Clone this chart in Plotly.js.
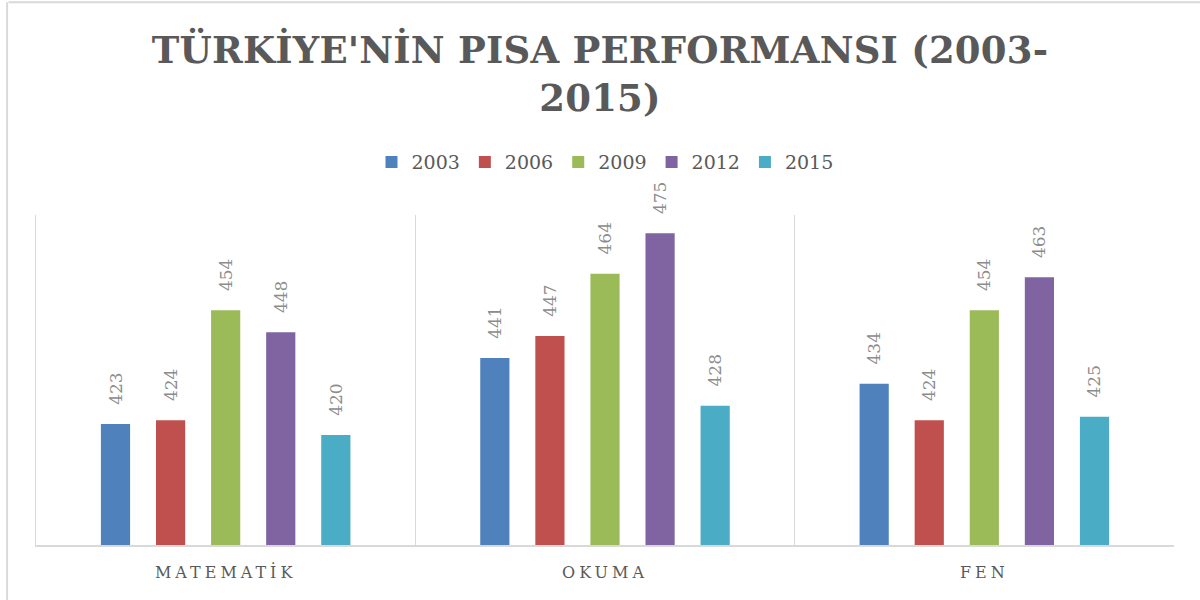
<!DOCTYPE html>
<html>
<head>
<meta charset="utf-8">
<script src="https://cdn.plot.ly/plotly-3.0.1.min.js"></script>
<style>
  html, body { margin: 0; padding: 0; background: #fff; }
  #chart { width: 1200px; height: 600px; }
  .gtitle { letter-spacing: 0.2px; }
  .xtick text { letter-spacing: 4px; }
</style>
</head>
<body>
<div id="chart"></div>
<script>
const categories = ['MATEMATİK', 'OKUMA', 'FEN'];
const years = ['2003', '2006', '2009', '2012', '2015'];
const scores2003 = [423, 441, 434];
const scores2006 = [424, 447, 424];
const scores2009 = [454, 464, 454];
const scores2012 = [448, 475, 463];
const scores2015 = [420, 428, 425];
const colors = ['#4f81bd', '#c0504d', '#9bbb59', '#8064a2', '#4bacc6'];

const series = [scores2003, scores2006, scores2009, scores2012, scores2015];
const traces = series.map((vals, i) => ({
  type: 'bar',
  name: years[i],
  x: categories,
  y: vals,
  base: 0,
  marker: { color: colors[i] },
  text: vals.map(v => String(v)),
  texttemplate: '\u00a0\u00a0\u00a0%{text}',
  textposition: 'outside',
  textangle: -90,
  constraintext: 'none',
  cliponaxis: false,
  textfont: { family: 'DejaVu Serif, serif', size: 17, color: '#8c8c8c' },
  hoverinfo: 'skip'
}));

const layout = {
  width: 1200,
  height: 600,
  paper_bgcolor: '#ffffff',
  plot_bgcolor: '#ffffff',
  margin: { l: 36, r: 26, t: 215, b: 55 },
  barmode: 'group',
  bargap: 0.274,
  bargroupgap: 0.47,
  title: {
    text: "TÜRKİYE'NİN PISA PERFORMANSI (2003-<br>2015)",
    font: { family: 'DejaVu Serif, serif', size: 37, color: '#595959', weight: 'bold' },
    x: 0.5,
    xanchor: 'center',
    y: 0.895,
    yanchor: 'middle'
  },
  showlegend: true,
  legend: {
    orientation: 'h',
    x: 0.5,
    xanchor: 'center',
    y: 1.16,
    yanchor: 'middle',
    font: { family: 'DejaVu Serif, serif', size: 19, color: '#595959' },
    itemwidth: 30,
    traceorder: 'normal'
  },
  xaxis: {
    type: 'category',
    categoryorder: 'array',
    categoryarray: categories,
    showgrid: true,
    gridcolor: '#d9d9d9',
    gridwidth: 1.5,
    tickson: 'boundaries',
    ticks: '',
    showline: true,
    linecolor: '#d9d9d9',
    linewidth: 2,
    ticklabelstandoff: 12,
    tickfont: { family: 'DejaVu Serif, serif', size: 16, color: '#595959' },
    zeroline: false,
    fixedrange: true
  },
  yaxis: {
    range: [390, 480],
    showgrid: false,
    showticklabels: false,
    zeroline: false,
    showline: true,
    linecolor: '#d9d9d9',
    linewidth: 1.5,
    ticks: '',
    fixedrange: true
  },
  shapes: [
    { type: 'line', xref: 'paper', yref: 'paper', x0: -0.0242, x1: 1.03, y0: 1.645, y1: 1.645,
      line: { color: '#d9d9d9', width: 2 } },
    { type: 'line', xref: 'paper', yref: 'paper', x0: -0.0254, x1: -0.0254, y0: 1.645, y1: -0.2,
      line: { color: '#d9d9d9', width: 2 } }
  ]
};

Plotly.newPlot('chart', traces, layout, { displayModeBar: false, staticPlot: true });
</script>
</body>
</html>
